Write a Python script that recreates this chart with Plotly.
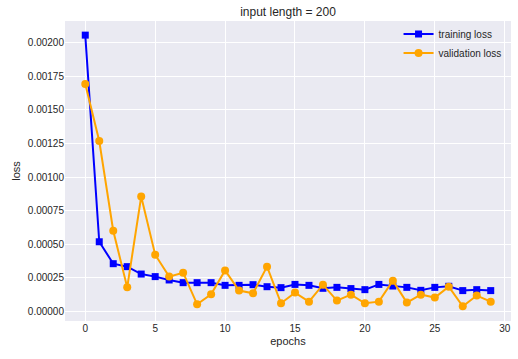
import plotly.graph_objects as go

epochs = list(range(30))
training_loss = [0.002055, 0.000519, 0.000356, 0.000334, 0.000279, 0.000260, 0.000235, 0.000215,
                 0.000215, 0.000215, 0.000195, 0.000195, 0.000200, 0.000185, 0.000178, 0.000202,
                 0.000195, 0.000173, 0.000180, 0.000171, 0.000163, 0.000202, 0.000190, 0.000180,
                 0.000158, 0.000180, 0.000188, 0.000156, 0.000163, 0.000156]
validation_loss = [0.001691, 0.001268, 0.000601, 0.000180, 0.000855, 0.000423, 0.000260, 0.000289,
                   0.000054, 0.000128, 0.000306, 0.000156, 0.000136, 0.000334, 0.000062, 0.000141,
                   0.000074, 0.000200, 0.000082, 0.000126, 0.000062, 0.000074, 0.000230, 0.000067,
                   0.000126, 0.000104, 0.000185, 0.000039, 0.000119, 0.000074]
y_ticks = [0, 0.00025, 0.0005, 0.00075, 0.001, 0.00125, 0.0015, 0.00175, 0.002]
x_ticks = [0, 5, 10, 15, 20, 25, 30]

fig = go.Figure()
fig.add_trace(go.Scatter(x=epochs, y=training_loss, mode='lines+markers', name='training loss',
                         line=dict(color='blue', width=2),
                         marker=dict(symbol='square', size=7, color='blue')))
fig.add_trace(go.Scatter(x=epochs, y=validation_loss, mode='lines+markers', name='validation loss',
                         line=dict(color='orange', width=2),
                         marker=dict(symbol='circle', size=8, color='orange')))

fig.update_layout(
    width=518, height=359,
    margin=dict(l=65, r=7, t=21, b=38, autoexpand=False),
    paper_bgcolor='white', plot_bgcolor='#EAEAF2',
    font=dict(family='Liberation Sans, Arial, sans-serif', size=10, color='#262626'),
    title=dict(text='input length = 200', x=0.5, xref='paper', xanchor='center',
               y=347 / 359, yref='container', yanchor='middle',
               font=dict(size=12, color='#262626')),
    legend=dict(x=0.99, y=1.005, xanchor='right', yanchor='top', bgcolor='rgba(0,0,0,0)',
                font=dict(size=10), itemwidth=30, tracegroupgap=0),
    showlegend=True,
)
fig.update_xaxes(range=[-1.45, 30.45], tickvals=x_ticks, showgrid=True, gridcolor='white',
                 gridwidth=1, zeroline=False, showline=False, ticks='', automargin=False,
                 title=dict(text='epochs', standoff=4, font=dict(size=11)))
fig.update_yaxes(range=[-0.00007, 0.00216], tickvals=y_ticks, tickformat='.5f', showgrid=True,
                 gridcolor='white', gridwidth=1, zeroline=False, showline=False, ticks='',
                 automargin=False,
                 title=dict(text='loss', standoff=4, font=dict(size=11)))

# drop the browser's default page margin so the figure sits at the window corner
fig.write_html("out.html", config={'displayModeBar': False},
               post_script="document.body.style.margin = '0';")
